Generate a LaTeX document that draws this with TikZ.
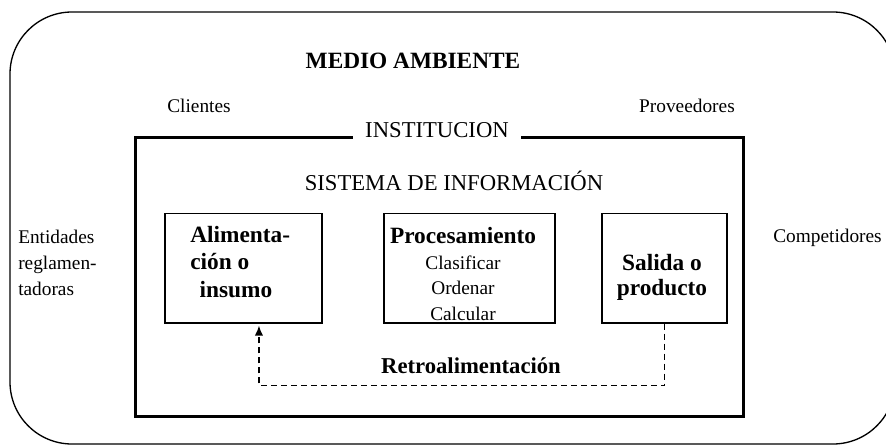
\documentclass[tikz,border=0pt]{standalone}
\usepackage{fontspec}
\setmainfont{Liberation Serif}
\usetikzlibrary{arrows.meta}
\tikzset{>={Latex[width=2.2mm,length=2.6mm]}}
\tikzset{
  envtext/.style={font=\fontsize{14.5}{19.5}\selectfont, inner sep=0pt},
  bigtext/.style={font=\fontsize{17}{20}\selectfont, inner sep=0pt},
  stagetext/.style={font=\bfseries\fontsize{17.5}{20.6}\selectfont, inner sep=0pt},
  stagebox/.style={draw, line width=1.1pt, minimum height=82.1pt, inner sep=0pt},
  feedback/.style={line width=1pt, dash pattern=on 4.5pt off 3pt, shorten >=1.5pt}
}

\begin{document}
\begin{tikzpicture}[x=0.75pt,y=-0.75pt]
	\useasboundingbox (0,0) rectangle (886,446);
	\clip (0,0) rectangle (886,446);
	% medio ambiente
	\draw[line width=1pt, rounded corners=46.5pt] (10,12) rectangle (895,444);
	\node[bigtext, font=\bfseries\fontsize{17.5}{20}\selectfont, anchor=base] (medio) at (413,68) {MEDIO AMBIENTE};
	\node[envtext, anchor=base] (clientes) at (199,112) {Clientes};
	\node[envtext, anchor=base] (proveedores) at (687,112) {Proveedores};
	\node[envtext, anchor=north west, align=left] (entidades) at (18,230) {Entidades\\reglamen-\\tadoras};
	\node[envtext, anchor=base west] (competidores) at (773,242) {Competidores};
	% institucion
	\node[bigtext, anchor=base, inner xsep=9pt] (inst) at (437,137) {INSTITUCION};
	\coordinate (itl) at (135,137.5);
	\coordinate (itr) at (743,137.5);
	\coordinate (ibl) at (135,416.5);
	\coordinate (ibr) at (743,416.5);
	\draw[line width=2.25pt] (itl -| inst.west) -- (itl) -- (ibl) -- (ibr) -- (itr) -- (itr -| inst.east);
	\node[bigtext, anchor=base] (sistema) at (454,190) {SISTEMA DE INFORMACIÓN};
	% etapas
	\node[stagebox, minimum width=117.75pt] (alim) at (243.5,268.25) {};
	\node[stagebox, minimum width=128.25pt] (proc) at (469.5,268.25) {};
	\node[stagebox, minimum width=93.75pt] (sal) at (664.5,268.25) {};
	\node[stagetext, anchor=north west, align=left] (alimtxt) at (190,226) {Alimenta-\\ción o\\\hspace{7pt}insumo};
	\node[envtext, anchor=north, align=center, font=\fontsize{14.5}{19.3}\selectfont] (proctxt) at (463,227) {\textbf{\fontsize{17.5}{20}\selectfont Procesamiento}\\Clasificar\\Ordenar\\Calcular};
	\node[stagetext, anchor=north, align=center, font=\bfseries\fontsize{17.5}{18.75}\selectfont] (saltxt) at (662,254) {Salida o\\producto};
	% retroalimentacion
	\draw[feedback, ->] (sal.south) -- ++(0,62) -| ([xshift=11.6pt]alim.south);
	\node[bigtext, font=\bfseries\fontsize{17}{20}\selectfont, anchor=base] (retro) at (471,373) {Retroalimentación};
\end{tikzpicture}
\end{document}
